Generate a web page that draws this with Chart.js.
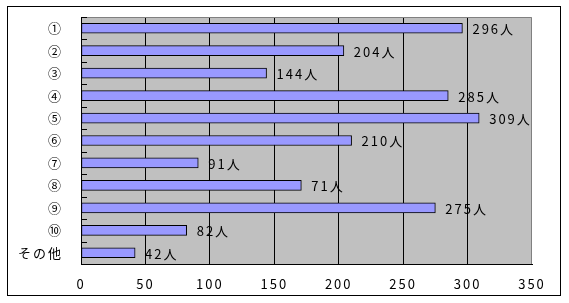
<!DOCTYPE html>
<html>
<head>
<meta charset="utf-8">
<script src="https://cdn.jsdelivr.net/npm/chart.js@4"></script>
<style>
  body { margin: 0; background: #fff; }
  #wrap { width: 569px; height: 303px; position: relative; }
</style>
</head>
<body>
<div id="wrap"><canvas id="myChart"></canvas></div>
<script>
var categories = ['①', '②', '③', '④', '⑤', '⑥', '⑦', '⑧', '⑨', '⑩', 'その他'];
var counts = [296, 204, 144, 285, 309, 210, 91, 171, 275, 82, 42];
var countLabels = ['296人', '204人', '144人', '285人', '309人', '210人', '91人', '71人', '275人', '82人', '42人'];
var xTicks = [0, 50, 100, 150, 200, 250, 300, 350];

var FONT = "'Noto Sans CJK JP', 'Noto Sans', sans-serif";

// gray plot area, outer frame, inner ticks on the category axis
const frame = {
    id: 'frame',
    beforeDraw(chart) {
        const ctx = chart.ctx;
        const a = chart.chartArea;
        ctx.save();
        ctx.fillStyle = '#fff';
        ctx.fillRect(0, 0, chart.width, chart.height);
        ctx.strokeStyle = '#000';
        ctx.lineWidth = 1;
        ctx.strokeRect(7.5, 6.5, chart.width - 16, chart.height - 14);
        ctx.fillStyle = '#c0c0c0';
        ctx.fillRect(a.left, a.top, a.right - a.left, a.bottom - a.top);
        ctx.restore();
        ctx.letterSpacing = '2px';
    },
    afterDraw(chart) {
        const ctx = chart.ctx;
        const a = chart.chartArea;
        const y = chart.scales.y;
        ctx.save();
        ctx.strokeStyle = '#808080';
        ctx.beginPath();
        ctx.moveTo(a.left, a.top + 0.5);
        ctx.lineTo(a.right - 0.5, a.top + 0.5);
        ctx.lineTo(a.right - 0.5, a.bottom);
        ctx.stroke();
        ctx.strokeStyle = '#000';
        ctx.beginPath();
        for (let i = 0; i < categories.length; i++) {
            const yy = Math.round(y.getPixelForTick(i) - (y.getPixelForTick(1) - y.getPixelForTick(0)) / 2) + 0.5;
            ctx.moveTo(a.left, yy);
            ctx.lineTo(a.left + 6, yy);
        }
        ctx.moveTo(a.left + 0.5, a.top);
        ctx.lineTo(a.left + 0.5, a.bottom);
        ctx.stroke();
        ctx.restore();
    },
    afterDatasetsDraw(chart) {
        const ctx = chart.ctx;
        const meta = chart.getDatasetMeta(0);
        ctx.save();
        ctx.letterSpacing = '2px';
        ctx.font = '13px ' + FONT;
        ctx.fillStyle = '#000';
        ctx.textBaseline = 'middle';
        meta.data.forEach(function (bar, i) {
            ctx.fillText(countLabels[i], bar.x + 10, bar.y + 1);
        });
        ctx.restore();
    }
};

const c = new Chart(document.getElementById('myChart'), {
    type: 'bar',
    data: {
        labels: categories,
        datasets: [{
            data: counts,
            backgroundColor: '#9999ff',
            borderColor: '#000',
            borderWidth: 1,
            borderSkipped: false,
            barThickness: 10
        }]
    },
    options: {
        indexAxis: 'y',
        responsive: true,
        maintainAspectRatio: false,
        animation: false,
        layout: { padding: { top: 17, right: 37, bottom: 0, left: 0 } },
        plugins: {
            legend: { display: false },
            tooltip: { enabled: false }
        },
        scales: {
            x: {
                min: 0,
                max: 350,
                afterBuildTicks: function (scale) {
                    scale.ticks = xTicks.map(function (v) { return { value: v }; });
                },
                afterFit: function (scale) { scale.height = 39; },
                grid: {
                    color: function (ctx) { return ctx.tick && ctx.tick.value === 350 ? 'rgba(0,0,0,0)' : '#000'; },
                    drawTicks: false
                },
                border: { color: '#000' },
                ticks: {
                    color: '#000',
                    padding: 12,
                    maxRotation: 0,
                    font: { family: FONT, size: 13 }
                }
            },
            y: {
                afterFit: function (scale) {
                    scale.width = 81;
                    scale.paddingTop = 0;
                    scale.paddingBottom = 0;
                },
                grid: { display: false, drawTicks: false },
                border: { display: false },
                ticks: {
                    color: '#000',
                    padding: 18,
                    font: { family: FONT, size: 13 }
                }
            }
        }
    },
    plugins: [frame]
});
</script>
</body>
</html>
